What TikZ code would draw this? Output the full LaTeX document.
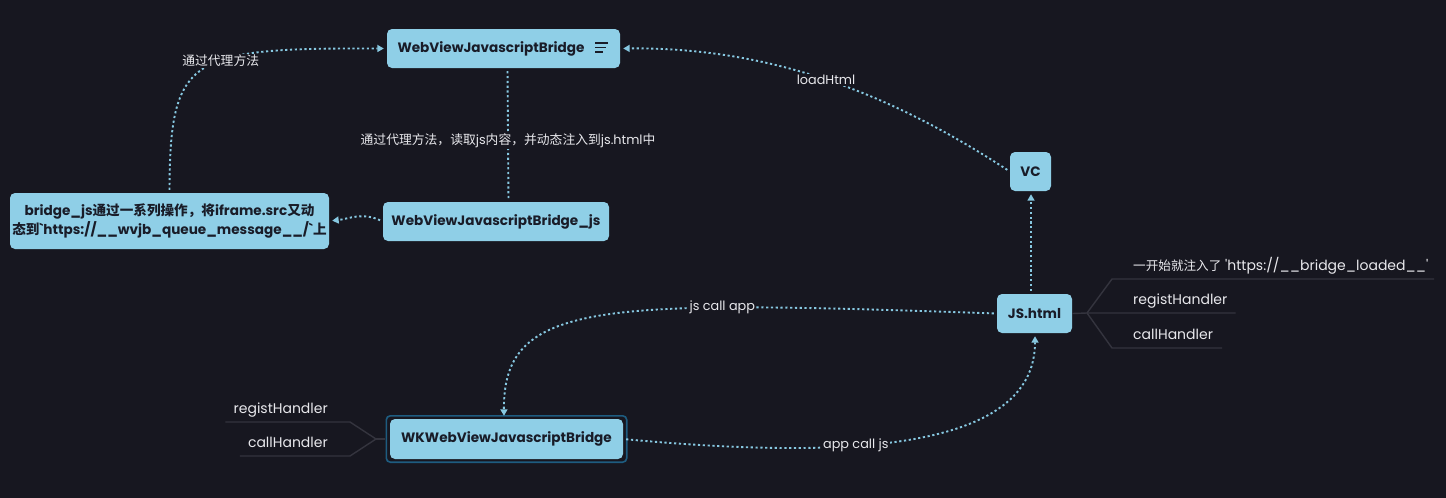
\documentclass[tikz,border=0pt]{standalone}
\usepackage{fontspec}
\setmainfont{Poppins}
\newfontfamily\cjk{Noto Sans CJK SC}
\usetikzlibrary{arrows.meta}
\definecolor{bgc}{RGB}{23,23,32}
\definecolor{nodefill}{RGB}{143,207,231}
\definecolor{nodetext}{RGB}{25,28,40}
\definecolor{flowcol}{RGB}{135,200,225}
\definecolor{branchcol}{RGB}{52,52,62}
\definecolor{lbltext}{RGB}{232,232,236}
\definecolor{selcol}{RGB}{30,92,128}
\begin{document}
\begin{tikzpicture}[x=1pt,y=-1pt,
  box/.style={rounded corners=5pt,fill=nodefill,text=nodetext,inner sep=0pt,
    minimum height=39pt,align=center,font=\bfseries\fontsize{13.6}{19}\selectfont},
  flow/.style={draw=flowcol,line width=1.9pt,dash pattern=on 2.2pt off 2.6pt,
    shorten <=3pt,shorten >=3pt,-{Triangle[length=6.5pt,width=7pt]}},
  lbl/.style={fill=bgc,text=lbltext,inner sep=1.5pt,font=\fontsize{12.8}{15}\selectfont},
  leaf/.style={text=lbltext,inner sep=0pt,text height=10pt,text depth=8.5pt,
    font=\fontsize{14}{16}\selectfont},
  branch/.style={draw=branchcol,line width=1.4pt}]
\useasboundingbox (0,0) rectangle (1446,498);
\fill[bgc] (0,0) rectangle (1446,498);

\node[box,minimum width=233pt] (wvjb) at (503.5,48.5) {WebViewJavascriptBridge\hspace{25pt}};
\draw[nodetext,line width=1.2pt] ([shift={(-25,-5.5)}]wvjb.east) -- ++(13,0)
  ([shift={(-25,-1)}]wvjb.east) -- ++(11,0)
  ([shift={(-25,3.5)}]wvjb.east) -- ++(8,0);
\node[box,minimum width=226pt] (wvjbjs) at (496,221.5) {WebViewJavascriptBridge\_js};
\node[box,minimum width=319pt,minimum height=56pt] (bridge) at (169.5,221)
  {bridge\_js{\cjk 通过一系列操作，将}iframe.src{\cjk 又动}\\
   {\cjk 态到}\textasciigrave https://\_\_wvjb\_queue\_message\_\_/\textasciigrave{\cjk 上}};
\node[box,minimum width=41pt] (vc) at (1030.5,171.5) {VC};
\node[box,minimum width=75pt] (js) at (1034.5,313.5) {JS.html};
\node[box,minimum width=233pt,minimum height=40pt] (wk) at (506.5,439) {WKWebViewJavascriptBridge};
\draw[selcol,line width=1.6pt,rounded corners=4pt]
  ([shift={(-3.5,-3)}]wk.north west) rectangle ([shift={(3.5,3)}]wk.south east);

\draw[flow] (bridge.north) .. controls (170,55) and (190,48) .. (wvjb.west)
  node[lbl,pos=0.58] (l1) {\cjk 通过代理方法};
\draw[flow,-] ([xshift=4pt]wvjb.south) -- ([xshift=12.5pt]wvjbjs.north)
  node[lbl,pos=0.54] (l2) {{\cjk 通过代理方法，读取}js{\cjk 内容，并动态注入到}js.html{\cjk 中}};
\draw[flow] (wvjbjs.west) .. controls (362,212) and (348,219) .. (bridge.east);
\draw[flow] (vc.west) .. controls (900,100) and (780,47) .. (wvjb.east)
  node[lbl,pos=0.52] (l3) {loadHtml};
\draw[flow] ([xshift=-3.5pt]js.north) -- ([xshift=0.5pt]vc.south);
\draw[flow] (js.west) .. controls (600,300) and (503,300) .. ([xshift=-2.5pt]wk.north)
  node[lbl,pos=0.29] (l4) {js call app};
\draw[flow] (wk.east) .. controls (850,460) and (1035,450) .. ([xshift=0.5pt]js.south)
  node[lbl,pos=0.38] (l5) {app call js};

\coordinate (jsfork) at (1087,313);
\node[leaf,anchor=south west] (jl1) at (1133,279)
  {{\cjk\fontsize{12.6}{16}\selectfont 一开始就注入了} \textquotesingle https://\_\_bridge\_loaded\_\_\textquotesingle};
\node[leaf,anchor=south west] (jl2) at (1133,313) {registHandler};
\node[leaf,anchor=south west] (jl3) at (1133,348) {callHandler};
\draw[branch] (js.east) -- (jsfork) -- ([xshift=8pt]jl2.south east);
\draw[branch] (jsfork) -- ([xshift=-21pt]jl1.south west) -- (1434,279);
\draw[branch] (jsfork) -- ([xshift=-21pt]jl3.south west) -- ([xshift=9pt]jl3.south east);

\coordinate (wkfork) at (376,439);
\node[leaf,anchor=south east] (wl1) at (328,422) {registHandler};
\node[leaf,anchor=south east] (wl2) at (328,456) {callHandler};
\draw[branch] ([xshift=-8pt]wl1.south west) -- ([xshift=22pt]wl1.south east) -- (wkfork);
\draw[branch] ([xshift=-8pt]wl2.south west) -- ([xshift=22pt]wl2.south east) -- (wkfork);
\draw[branch] (wkfork) -- ([xshift=-5pt]wk.west);
\end{tikzpicture}
\end{document}
